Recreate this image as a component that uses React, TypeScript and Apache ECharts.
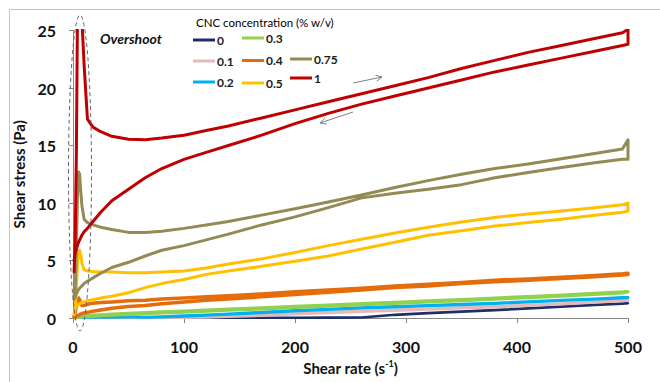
import React, { useEffect, useRef } from "react";
import * as echarts from "echarts";

// Shear rate grid (s^-1) shared by the up-ramp and down-ramp curves
const shearRate = [1, 2, 3, 4, 5, 6, 7, 8, 10, 13, 18, 25, 35, 50, 65, 80, 100, 120, 140, 170, 200, 230, 260, 290, 320, 350, 380, 410, 440, 470, 495, 500];

const concentrations = ["0", "0.1", "0.2", "0.3", "0.4", "0.5", "0.75", "1"];
const seriesColors = ["#1c2f6b", "#e6b9b8", "#00b0f0", "#92d050", "#e46c0a", "#ffc000", "#948a54", "#c00000"];
const seriesWidths = [2.5, 3, 3, 3.5, 3.5, 3, 3, 3];

// Shear stress (Pa), increasing shear rate
const up0 = [0.03, 0.03, 0.03, 0.03, 0.03, 0.03, 0.03, 0.03, 0.03, 0.04, 0.03, 0.04, 0.03, 0.04, 0.03, 0.04, 0.03, 0.04, 0.03, 0.04, 0.03, 0.05, 0.06, 0.3, 0.45, 0.58, 0.7, 0.85, 1.0, 1.15, 1.27, 1.3];
const up01 = [0.02, 0.02, 0.02, 0.02, 0.02, 0.02, 0.02, 0.02, 0.03, 0.03, 0.03, 0.03, 0.04, 0.04, 0.04, 0.05, 0.06, 0.08, 0.15, 0.25, 0.38, 0.5, 0.6, 0.7, 0.8, 0.9, 1.0, 1.12, 1.25, 1.4, 1.52, 1.55];
const up02 = [0.03, 0.05, 0.06, 0.07, 0.08, 0.08, 0.09, 0.1, 0.1, 0.08, 0.1, 0.12, 0.09, 0.1, 0.08, 0.12, 0.2, 0.28, 0.36, 0.5, 0.65, 0.78, 0.9, 1.0, 1.1, 1.2, 1.3, 1.42, 1.55, 1.67, 1.78, 1.8];
const up03 = [0.05, 0.08, 0.1, 0.12, 0.14, 0.15, 0.16, 0.17, 0.19, 0.21, 0.24, 0.28, 0.33, 0.4, 0.46, 0.52, 0.6, 0.68, 0.76, 0.88, 1.0, 1.12, 1.24, 1.36, 1.48, 1.6, 1.73, 1.86, 1.99, 2.13, 2.26, 2.3];
const up04 = [0.2, 0.5, 1.0, 1.5, 1.75, 1.6, 1.3, 1.1, 1.1, 1.2, 1.3, 1.35, 1.4, 1.5, 1.55, 1.65, 1.75, 1.85, 1.95, 2.1, 2.3, 2.45, 2.6, 2.8, 2.95, 3.1, 3.3, 3.4, 3.55, 3.7, 3.85, 3.9];
const up05 = [0.3, 0.8, 2.5, 4.5, 5.6, 5.9, 5.5, 4.8, 4.2, 4.1, 4.05, 4.0, 4.0, 3.95, 3.95, 4.0, 4.1, 4.35, 4.7, 5.15, 5.7, 6.3, 6.85, 7.4, 7.9, 8.35, 8.75, 9.05, 9.3, 9.6, 9.85, 10.0];
const up075 = [2.0, 2.5, 6.0, 10.5, 12.7, 12.5, 11.0, 9.8, 8.6, 8.3, 8.1, 7.9, 7.7, 7.45, 7.45, 7.55, 7.8, 8.1, 8.4, 8.95, 9.5, 10.1, 10.7, 11.35, 11.95, 12.5, 13.0, 13.4, 13.85, 14.3, 14.7, 15.5];
const up1 = [4.0, 7.0, 14.0, 26.0, 28.0, 28.0, 27.0, 26.0, 22.0, 17.3, 16.6, 16.2, 15.8, 15.55, 15.5, 15.65, 15.9, 16.3, 16.7, 17.4, 18.1, 18.8, 19.5, 20.2, 20.9, 21.7, 22.4, 23.1, 23.7, 24.3, 24.8, 25.1];

// Shear stress (Pa), decreasing shear rate (listed in ascending shear-rate order)
const down0 = [0.02, 0.02, 0.02, 0.02, 0.02, 0.02, 0.02, 0.02, 0.02, 0.03, 0.02, 0.03, 0.02, 0.03, 0.02, 0.03, 0.02, 0.03, 0.02, 0.03, 0.02, 0.04, 0.05, 0.28, 0.43, 0.56, 0.68, 0.83, 0.98, 1.13, 1.25, 1.28];
const down01 = [0.02, 0.02, 0.02, 0.02, 0.02, 0.02, 0.02, 0.02, 0.02, 0.02, 0.02, 0.02, 0.03, 0.03, 0.03, 0.04, 0.05, 0.07, 0.13, 0.23, 0.36, 0.47, 0.57, 0.67, 0.77, 0.87, 0.97, 1.09, 1.22, 1.37, 1.5, 1.52];
const down02 = [0.02, 0.03, 0.04, 0.05, 0.06, 0.06, 0.07, 0.08, 0.08, 0.07, 0.08, 0.1, 0.08, 0.09, 0.07, 0.1, 0.17, 0.25, 0.33, 0.47, 0.62, 0.75, 0.87, 0.97, 1.07, 1.17, 1.27, 1.39, 1.52, 1.64, 1.75, 1.77];
const down03 = [0.03, 0.05, 0.06, 0.08, 0.09, 0.1, 0.11, 0.12, 0.13, 0.15, 0.18, 0.22, 0.27, 0.34, 0.4, 0.46, 0.54, 0.62, 0.7, 0.82, 0.94, 1.06, 1.18, 1.3, 1.42, 1.54, 1.67, 1.8, 1.93, 2.07, 2.2, 2.24];
const down04 = [0.05, 0.1, 0.15, 0.2, 0.25, 0.3, 0.35, 0.4, 0.45, 0.5, 0.6, 0.7, 0.85, 1.0, 1.1, 1.25, 1.4, 1.55, 1.65, 1.85, 2.05, 2.25, 2.45, 2.65, 2.8, 3.0, 3.15, 3.3, 3.45, 3.6, 3.75, 3.8];
const down05 = [0.5, 0.8, 1.0, 1.1, 1.2, 1.25, 1.3, 1.35, 1.4, 1.5, 1.6, 1.75, 1.9, 2.2, 2.65, 3.0, 3.35, 3.8, 4.1, 4.5, 4.95, 5.4, 6.0, 6.6, 7.2, 7.6, 8.0, 8.3, 8.6, 8.95, 9.2, 9.3];
const down075 = [1.6, 1.9, 2.1, 2.3, 2.5, 2.6, 2.7, 2.8, 3.0, 3.2, 3.5, 3.9, 4.4, 4.85, 5.4, 5.9, 6.3, 6.8, 7.3, 8.1, 8.8, 9.6, 10.45, 10.85, 11.2, 11.6, 12.2, 12.65, 13.1, 13.5, 13.8, 13.8];
const down1 = [5.0, 5.6, 6.0, 6.3, 6.6, 6.8, 7.0, 7.2, 7.5, 7.8, 8.4, 9.2, 10.2, 11.2, 12.2, 13.0, 13.8, 14.4, 15.0, 15.9, 16.9, 17.8, 18.6, 19.3, 20.0, 20.7, 21.4, 22.0, 22.6, 23.2, 23.7, 23.8];

const upCurves = [up0, up01, up02, up03, up04, up05, up075, up1];
const downCurves = [down0, down01, down02, down03, down04, down05, down075, down1];

const yTickValues = { min: 0, max: 25, interval: 5 };
const xTickValues = { min: 0, max: 500, interval: 100 };

const FONT = "Lato, 'Open Sans', sans-serif";

export default function App() {
  const ref = useRef<HTMLDivElement>(null);

  useEffect(() => {
    document.body.style.margin = "0";
    const chart = echarts.init(ref.current!, null, { renderer: "svg" });

    const series = concentrations.map((name, k) => {
      const up = shearRate.map((x, i) => [x, upCurves[k][i]]);
      const down = shearRate.map((x, i) => [x, downCurves[k][i]]).reverse();
      return {
        name,
        type: "line",
        data: up.concat(down),
        showSymbol: false,
        symbol: "none",
        smooth: false,
        clip: true,
        z: 2 + k,
        lineStyle: { color: seriesColors[k], width: seriesWidths[k], join: "round", cap: "round" },
        itemStyle: { color: seriesColors[k] },
      };
    });

    const legendBase = {
      orient: "vertical",
      icon: "rect",
      itemWidth: 22,
      itemHeight: 3,
      selectedMode: false,
      padding: 0,
      textStyle: {
        fontFamily: FONT,
        fontWeight: "bold",
        fontSize: 12,
        color: "#1a1a1a",
        lineHeight: 14,
        padding: [0, 0, 0, -3],
      },
    };

    const option = {
      animation: false,
      backgroundColor: "#ffffff",
      title: {
        text: "CNC concentration (% w/v)",
        left: 196,
        top: 16,
        padding: 0,
        textStyle: { fontFamily: FONT, fontSize: 11.5, fontWeight: "normal", color: "#000" },
      },
      legend: [
        { ...legendBase, data: ["0", "0.1", "0.2"], left: 193, top: 33, itemGap: 7 },
        { ...legendBase, data: ["0.3", "0.4", "0.5"], left: 242, top: 31, itemGap: 8.5 },
        { ...legendBase, data: ["0.75", "1"], left: 290, top: 52, itemGap: 5 },
      ],
      grid: { left: 73, right: 32, top: 30.5, bottom: 58.5, containLabel: false },
      xAxis: {
        type: "value",
        ...xTickValues,
        name: "Shear rate (s{sup|-1})",
        nameLocation: "middle",
        nameGap: 36,
        nameTextStyle: {
          fontFamily: FONT,
          fontSize: 15,
          fontWeight: "bold",
          color: "#111",
          lineHeight: 18,
          rich: {
            sup: { fontFamily: FONT, fontSize: 9, fontWeight: "bold", color: "#111", lineHeight: 9, verticalAlign: "top" },
          },
        },
        axisLine: { show: true, lineStyle: { color: "#868686", width: 1 } },
        axisTick: { show: true, inside: false, length: 5, lineStyle: { color: "#868686" } },
        axisLabel: { margin: 20, fontFamily: FONT, fontSize: 16, fontWeight: "bold", color: "#111" },
        splitLine: { show: false },
      },
      yAxis: {
        type: "value",
        ...yTickValues,
        name: "Shear stress (Pa)",
        nameLocation: "middle",
        nameGap: 40,
        nameRotate: 90,
        nameTextStyle: { fontFamily: FONT, fontSize: 15, fontWeight: "bold", color: "#111" },
        axisLine: { show: true, lineStyle: { color: "#868686", width: 1 } },
        axisTick: { show: true, inside: false, length: 4, lineStyle: { color: "#868686" } },
        axisLabel: { margin: 17, fontFamily: FONT, fontSize: 16, fontWeight: "bold", color: "#111" },
        splitLine: { show: false },
      },
      graphic: [
        {
          type: "rect",
          silent: true,
          z: -10,
          shape: { x: 9.5, y: 9.5, width: 700, height: 400 },
          style: { fill: "none", stroke: "#c4c4c4", lineWidth: 1 },
        },
        {
          type: "text",
          x: 100,
          y: 31,
          style: { text: "Overshoot", font: `italic bold 14px ${FONT}`, fill: "#111" },
        },
        {
          type: "ellipse",
          silent: true,
          z: 100,
          shape: { cx: 80, cy: 173, rx: 11.5, ry: 158 },
          style: { fill: "none", stroke: "#666", lineWidth: 1, lineDash: [4, 3] },
        },
        {
          type: "line",
          shape: { x1: 353, y1: 83, x2: 382, y2: 77 },
          style: { stroke: "#808080", lineWidth: 1 },
        },
        {
          type: "polyline",
          shape: { points: [[375.5, 75.3], [382, 77], [376.7, 81.2]] },
          style: { stroke: "#808080", lineWidth: 1, fill: "none" },
        },
        {
          type: "line",
          shape: { x1: 353, y1: 112, x2: 320, y2: 123 },
          style: { stroke: "#808080", lineWidth: 1 },
        },
        {
          type: "polyline",
          shape: { points: [[324.7, 118.3], [320, 123], [326.6, 123.9]] },
          style: { stroke: "#808080", lineWidth: 1, fill: "none" },
        },
      ],
      series,
    };

    chart.setOption(option as any);
    return () => chart.dispose();
  }, []);

  return <div ref={ref} style={{ width: 660, height: 382 }} />;
}
